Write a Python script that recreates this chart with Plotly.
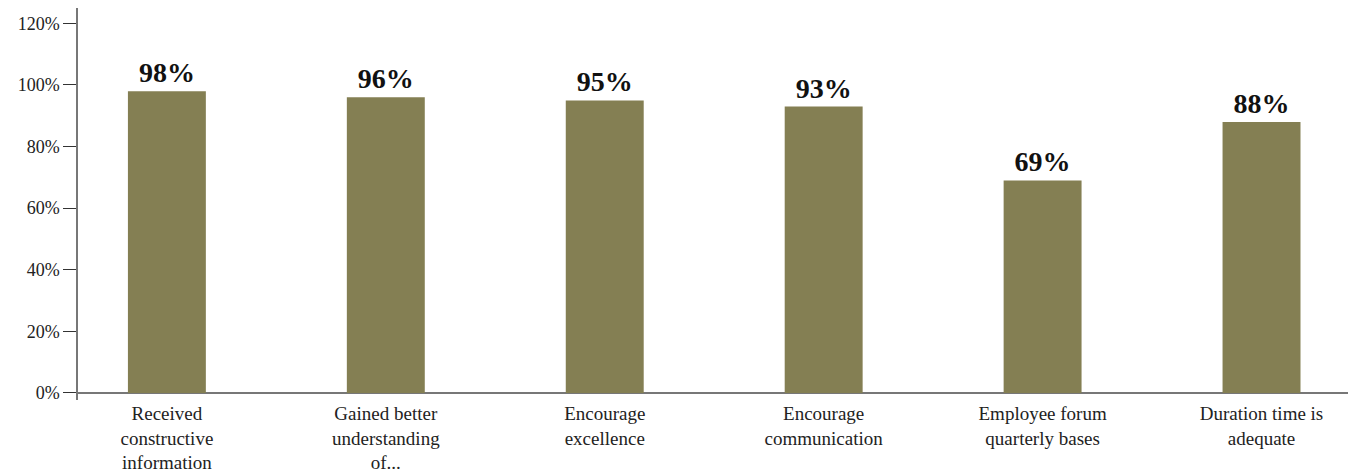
import plotly.graph_objects as go

categories = [
    "Received<br>constructive<br>information",
    "Gained better<br>understanding<br>of...",
    "Encourage<br>excellence",
    "Encourage<br>communication",
    "Employee forum<br>quarterly bases",
    "Duration time is<br>adequate",
]
values = [98, 96, 95, 93, 69, 88]
value_labels = ["98%", "96%", "95%", "93%", "69%", "88%"]
y_ticks = [0, 20, 40, 60, 80, 100, 120]

serif = "Times New Roman, Liberation Serif, DejaVu Serif, serif"
bar_color = "#847F53"

fig = go.Figure(
    go.Bar(
        x=list(range(len(categories))),
        y=values,
        text=value_labels,
        textposition="outside",
        textfont=dict(family=serif, size=28, color="#111111", weight=700),
        marker=dict(color=bar_color, line=dict(width=0)),
        width=0.356,
        cliponaxis=False,
        hoverinfo="skip",
    )
)

fig.update_layout(
    width=1348,
    height=474,
    margin=dict(l=78, r=0, t=8, b=74),
    paper_bgcolor="white",
    plot_bgcolor="white",
    showlegend=False,
    font=dict(family=serif, color="#222222"),
)

fig.update_xaxes(
    range=[-0.406, 5.395],
    tickmode="array",
    tickvals=list(range(len(categories))),
    ticktext=categories,
    tickfont=dict(family=serif, size=19, color="#222222"),
    showgrid=False,
    showline=False,
    ticks="",
    zeroline=False,
)

fig.update_yaxes(
    range=[-2.3, 125],
    tickmode="array",
    tickvals=y_ticks,
    ticktext=[f"{v}%" for v in y_ticks],
    tickfont=dict(family=serif, size=18, color="#222222"),
    ticks="outside",
    ticklen=13,
    tickcolor="#333333",
    tickwidth=1,
    showline=True,
    linecolor="#777777",
    linewidth=1.5,
    showgrid=False,
    zeroline=True,
    zerolinecolor="#777777",
    zerolinewidth=1.5,
)

fig.write_html("out.html")
